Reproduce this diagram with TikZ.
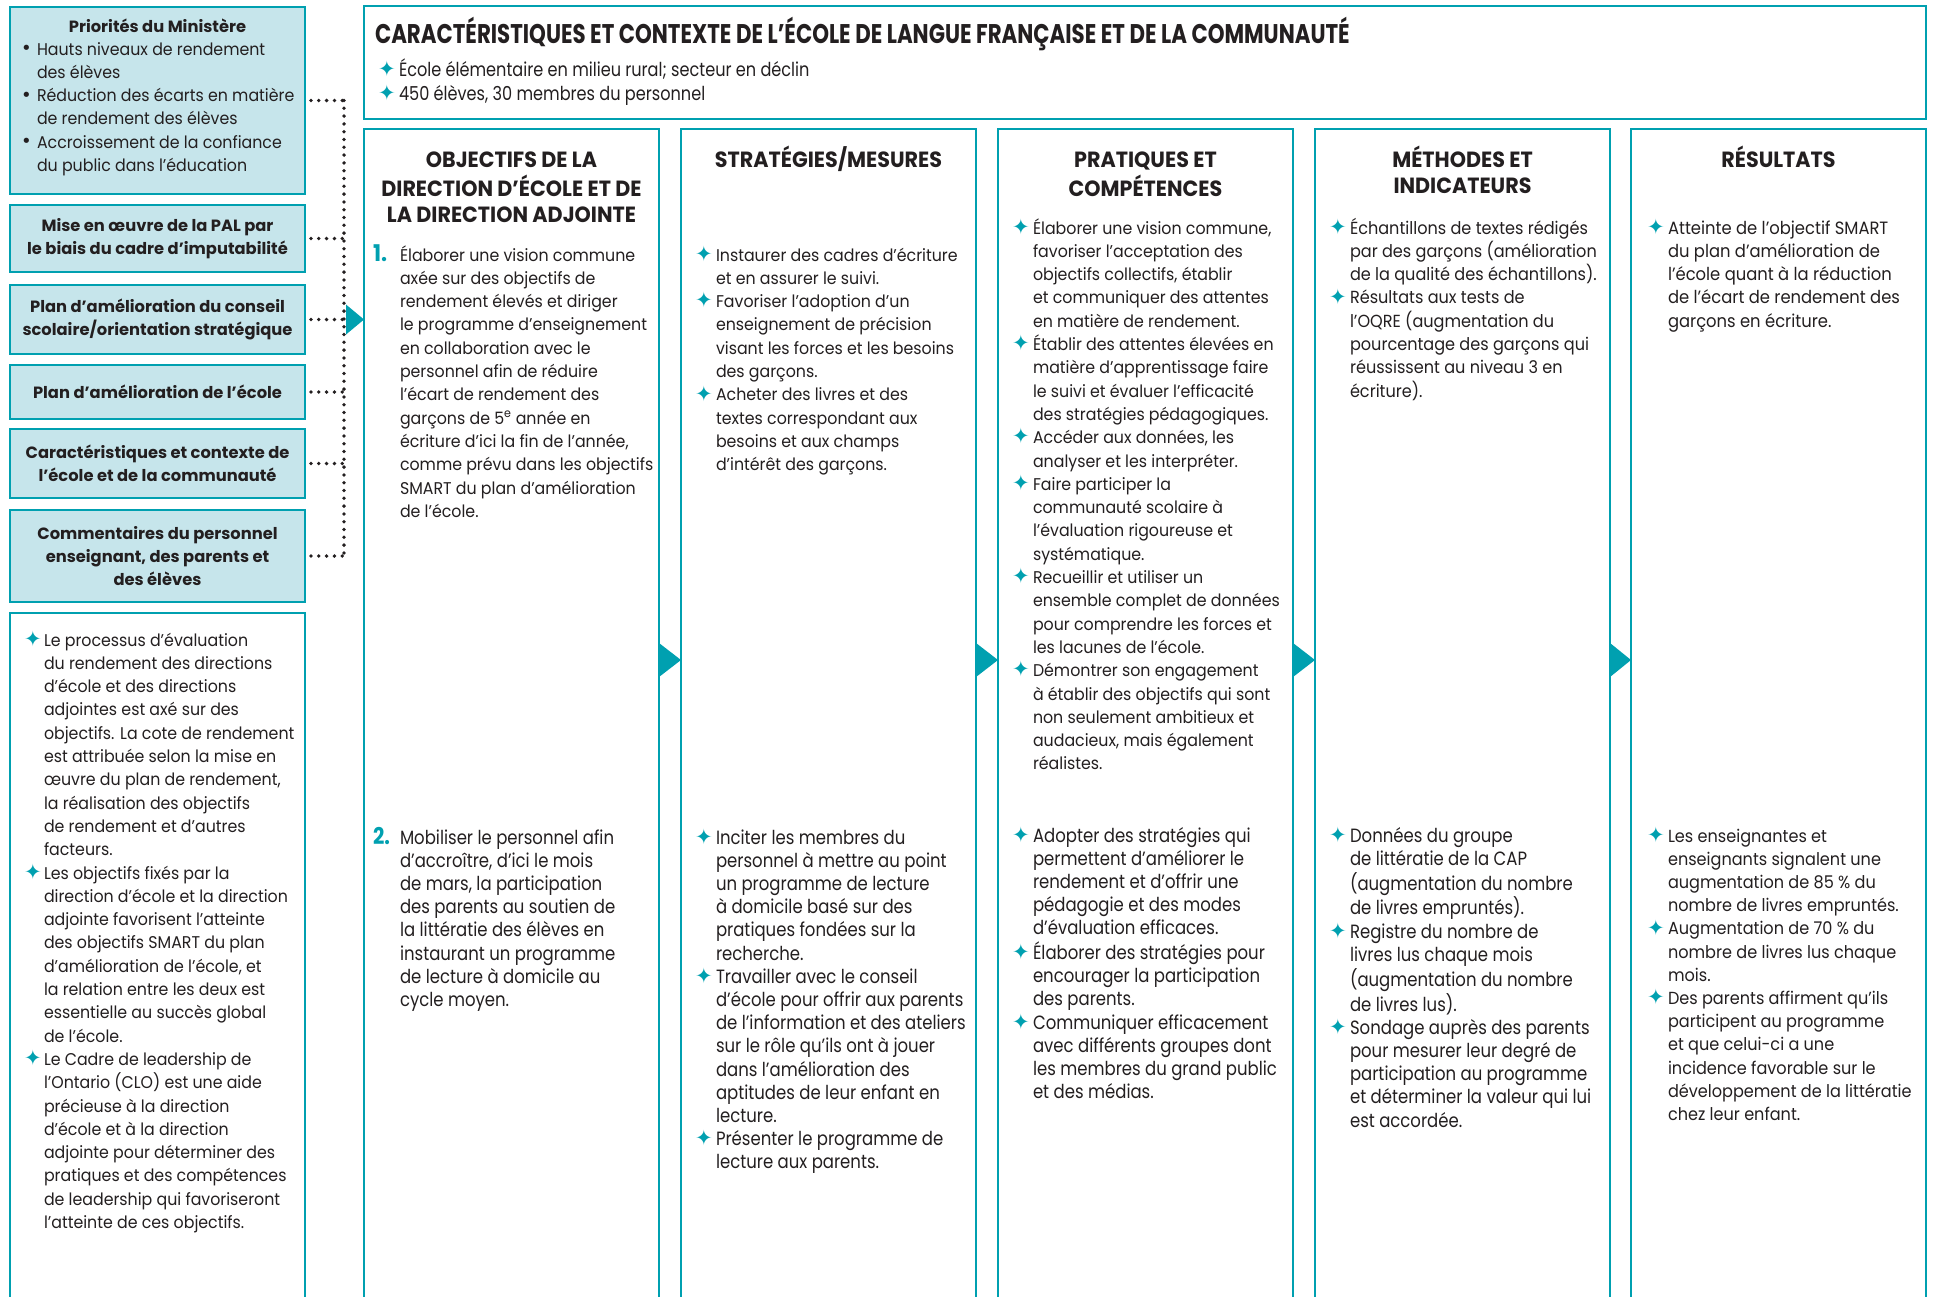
\documentclass[tikz,border=0pt]{standalone}
\usepackage{fontspec}
\usetikzlibrary{calc}
\setmainfont{Poppins}
\newfontfamily\fB{Poppins}[FakeStretch=0.93]
\newfontfamily\fC{Poppins}[FakeStretch=0.86]
\newfontfamily\fK{Poppins}[FakeStretch=0.84]
\newfontfamily\fM{Poppins}[FakeStretch=0.92]
\newfontfamily\fT{Poppins}[FakeStretch=0.79]
\newfontfamily\fH{Poppins}[FakeStretch=0.94]
\newfontfamily\fL{Poppins}
\newfontfamily\fSym{DejaVu Sans}
\definecolor{cteal}{HTML}{00A0B0}
\definecolor{cfill}{HTML}{C6E5EB}
\definecolor{ink}{HTML}{231F20}
% body sizes (1pt = 1px of the layout grid)
\newcommand{\bodysz}{\fontsize{17}{23.3}\selectfont}
\newcommand{\condsz}{\fontsize{19.2}{23.2}\selectfont}
\newcommand{\headsz}{\fontsize{22}{26.5}\selectfont}
\newcommand{\st}{\raisebox{-0.2pt}{\fSym\fontsize{21}{21}\selectfont\textcolor{cteal}{✦}}}
\newcommand{\dotb}{\raisebox{0.5pt}{\fSym\fontsize{18}{18}\selectfont •}}
\newcommand{\num}[1]{\textcolor{cteal}{\fontsize{23}{23}\selectfont\bfseries #1}}
\begin{document}
\begin{tikzpicture}[x=1pt,y=-1pt,
  box/.style={draw=cteal, line width=2.4pt, inner sep=0pt, outer sep=0pt},
  lbox/.style={box, fill=cfill, minimum width=295pt, align=center, text=ink,
    font=\fL\bfseries\fontsize{16.3}{23.3}\selectfont},
  colbox/.style={box, fill=white, minimum width=295pt, minimum height=1250pt, anchor=north west},
  txt/.style={inner sep=0pt, outer sep=0pt, text=ink, anchor=base west},
  head/.style={inner sep=0pt, outer sep=0pt, text=ink, anchor=base},
  flow/.style={fill=cteal},
  bus/.style={draw=ink, line width=3.8pt, line cap=round, dash pattern=on 0pt off 7.8pt}]
\useasboundingbox (0,0) rectangle (1933,1296);
\begin{scope}
\clip (0,0) rectangle (1933,1296);

% ---------- left column of inputs ----------
\node[lbox, minimum height=187pt] (b1) at (157.5,100.5) {};
\node[lbox, minimum height=67pt] (b2) at (157.5,238.5) {Mise en œuvre de la PAL par\\le biais du cadre d’imputabilité};
\node[lbox, minimum height=69pt] (b3) at (157.5,319.5) {Plan d’amélioration du conseil\\scolaire/orientation stratégique};
\node[lbox, minimum height=54pt] (b4) at (157.5,392) {Plan d’amélioration de l’école};
\node[lbox, minimum height=69pt] (b5) at (157.5,463.5) {Caractéristiques et contexte de\\l’école et de la communauté};
\node[lbox, minimum height=92pt] (b6) at (157.5,556) {Commentaires du personnel\\enseignant, des parents et\\des élèves};
\node[box, fill=white, minimum width=295pt, minimum height=720pt, anchor=north] (b7) at (157.5,613) {};

\node[head, font=\fL\bfseries\fontsize{16.3}{23.3}\selectfont] (b1h) at (157.5,32) {Priorités du Ministère};
\node[txt] (b1t) at (21,55) {\fB\bodysz
\begin{tabular}[t]{@{}p{16pt}@{}l@{}}
\dotb & Hauts niveaux de rendement\\
      & des élèves\\
\dotb & Réduction des écarts en matière\\
      & de rendement des élèves\\
\dotb & Accroissement de la confiance\\
      & du public dans l’éducation
\end{tabular}};

\node[txt] (b7t) at (24,646) {\fB\bodysz
\begin{tabular}[t]{@{}p{20pt}@{}l@{}}
\st & Le processus d’évaluation\\
    & du rendement des directions\\
    & d’école et des directions\\
    & adjointes est axé sur des\\
    & objectifs. La cote de rendement\\
    & est attribuée selon la mise en\\
    & œuvre du plan de rendement,\\
    & la réalisation des objectifs\\
    & de rendement et d’autres\\
    & facteurs.\\
\st & Les objectifs fixés par la\\
    & direction d’école et la direction\\
    & adjointe favorisent l’atteinte\\
    & des objectifs SMART du plan\\
    & d’amélioration de l’école, et\\
    & la relation entre les deux est\\
    & essentielle au succès global\\
    & de l’école.\\
\st & Le Cadre de leadership de\\
    & l’Ontario (CLO) est une aide\\
    & précieuse à la direction\\
    & d’école et à la direction\\
    & adjointe pour déterminer des\\
    & pratiques et des compétences\\
    & de leadership qui favoriseront\\
    & l’atteinte de ces objectifs.
\end{tabular}};

% ---------- context banner ----------
\node[box, fill=white, minimum width=1562pt, minimum height=113pt, anchor=north west] (ctx) at (364,6) {};
\node[txt] (ctxh) at (375,43) {\fT\bfseries\fontsize{27}{27}\selectfont CARACTÉRISTIQUES ET CONTEXTE DE L’ÉCOLE DE LANGUE FRANÇAISE ET DE LA COMMUNAUTÉ};
\node[txt] (ctxt) at (378,76) {\fK\fontsize{19.2}{24}\selectfont
\begin{tabular}[t]{@{}p{21pt}@{}l@{}}
\st & École élémentaire en milieu rural; secteur en déclin\\
\st & 450 élèves, 30 membres du personnel
\end{tabular}};

% ---------- five stage columns ----------
\node[colbox] (c1) at (364,129) {};
\node[colbox] (c2) at (681,129) {};
\node[colbox] (c3) at (998,129) {};
\node[colbox] (c4) at (1315,129) {};
\node[colbox] (c5) at (1631,129) {};

\node[head] (h1) at (511.5,167) {\fH\bfseries\headsz
\begin{tabular}[t]{@{}c@{}}OBJECTIFS DE LA\\DIRECTION D’ÉCOLE ET DE\\LA DIRECTION ADJOINTE\end{tabular}};
\node[head] (h2) at (828.5,167) {\fH\bfseries\headsz STRATÉGIES/MESURES};
\node[head] (h3) at (1145.5,167) {\fH\bfseries\headsz
\begin{tabular}[t]{@{}c@{}}PRATIQUES ET\\COMPÉTENCES\end{tabular}};
\node[head] (h4) at (1462.5,167) {\fH\bfseries\headsz
\begin{tabular}[t]{@{}c@{}}MÉTHODES ET\\INDICATEURS\end{tabular}};
\node[head] (h5) at (1778.5,167) {\fH\bfseries\headsz RÉSULTATS};

% column 1
\node[txt] (o1) at (373,261) {\fB\bodysz
\begin{tabular}[t]{@{}p{27pt}@{}l@{}}
\num{1.} & Élaborer une vision commune\\
 & axée sur des objectifs de\\
 & rendement élevés et diriger\\
 & le programme d’enseignement\\
 & en collaboration avec le\\
 & personnel afin de réduire\\
 & l’écart de rendement des\\
 & garçons de 5\textsuperscript{e} année en\\
 & écriture d’ici la fin de l’année,\\
 & comme prévu dans les objectifs\\
 & SMART du plan d’amélioration\\
 & de l’école.
\end{tabular}};
\node[txt] (o2) at (373,844) {\fC\condsz
\begin{tabular}[t]{@{}p{27pt}@{}l@{}}
\num{2.} & Mobiliser le personnel afin\\
 & d’accroître, d’ici le mois\\
 & de mars, la participation\\
 & des parents au soutien de\\
 & la littératie des élèves en\\
 & instaurant un programme\\
 & de lecture à domicile au\\
 & cycle moyen.
\end{tabular}};

% column 2
\node[txt] (s1) at (695,261) {\fB\bodysz
\begin{tabular}[t]{@{}p{21pt}@{}l@{}}
\st & Instaurer des cadres d’écriture\\
    & et en assurer le suivi.\\
\st & Favoriser l’adoption d’un\\
    & enseignement de précision\\
    & visant les forces et les besoins\\
    & des garçons.\\
\st & Acheter des livres et des\\
    & textes correspondant aux\\
    & besoins et aux champs\\
    & d’intérêt des garçons.
\end{tabular}};
\node[txt] (s2) at (695,844) {\fC\condsz
\begin{tabular}[t]{@{}p{21pt}@{}l@{}}
\st & Inciter les membres du\\
    & personnel à mettre au point\\
    & un programme de lecture\\
    & à domicile basé sur des\\
    & pratiques fondées sur la\\
    & recherche.\\
\st & Travailler avec le conseil\\
    & d’école pour offrir aux parents\\
    & de l’information et des ateliers\\
    & sur le rôle qu’ils ont à jouer\\
    & dans l’amélioration des\\
    & aptitudes de leur enfant en\\
    & lecture.\\
\st & Présenter le programme de\\
    & lecture aux parents.
\end{tabular}};

% column 3
\node[txt] (p1) at (1012,234) {\fB\bodysz
\begin{tabular}[t]{@{}p{21pt}@{}l@{}}
\st & Élaborer une vision commune,\\
    & favoriser l’acceptation des\\
    & objectifs collectifs, établir\\
    & et communiquer des attentes\\
    & en matière de rendement.\\
\st & Établir des attentes élevées en\\
    & matière d’apprentissage faire\\
    & le suivi et évaluer l’efficacité\\
    & des stratégies pédagogiques.\\
\st & Accéder aux données, les\\
    & analyser et les interpréter.\\
\st & Faire participer la\\
    & communauté scolaire à\\
    & l’évaluation rigoureuse et\\
    & systématique.\\
\st & Recueillir et utiliser un\\
    & ensemble complet de données\\
    & pour comprendre les forces et\\
    & les lacunes de l’école.\\
\st & Démontrer son engagement\\
    & à établir des objectifs qui sont\\
    & non seulement ambitieux et\\
    & audacieux, mais également\\
    & réalistes.
\end{tabular}};
\node[txt] (p2) at (1012,842) {\fC\condsz
\begin{tabular}[t]{@{}p{21pt}@{}l@{}}
\st & Adopter des stratégies qui\\
    & permettent d’améliorer le\\
    & rendement et d’offrir une\\
    & pédagogie et des modes\\
    & d’évaluation efficaces.\\
\st & Élaborer des stratégies pour\\
    & encourager la participation\\
    & des parents.\\
\st & Communiquer efficacement\\
    & avec différents groupes dont\\
    & les membres du grand public\\
    & et des médias.
\end{tabular}};

% column 4
\node[txt] (m1) at (1329,234) {\fM\fontsize{17.5}{23.3}\selectfont
\begin{tabular}[t]{@{}p{21pt}@{}l@{}}
\st & Échantillons de textes rédigés\\
    & par des garçons (amélioration\\
    & de la qualité des échantillons).\\
\st & Résultats aux tests de\\
    & l’OQRE (augmentation du\\
    & pourcentage des garçons qui\\
    & réussissent au niveau 3 en\\
    & écriture).
\end{tabular}};
\node[txt] (m2) at (1329,842) {\fC\condsz
\begin{tabular}[t]{@{}p{21pt}@{}l@{}}
\st & Données du groupe\\
    & de littératie de la CAP\\
    & (augmentation du nombre\\
    & de livres empruntés).\\
\st & Registre du nombre de\\
    & livres lus chaque mois\\
    & (augmentation du nombre\\
    & de livres lus).\\
\st & Sondage auprès des parents\\
    & pour mesurer leur degré de\\
    & participation au programme\\
    & et déterminer la valeur qui lui\\
    & est accordée.
\end{tabular}};

% column 5
\node[txt] (r1) at (1647,234) {\fM\fontsize{17.8}{23.3}\selectfont
\begin{tabular}[t]{@{}p{21pt}@{}l@{}}
\st & Atteinte de l’objectif SMART\\
    & du plan d’amélioration de\\
    & l’école quant à la réduction\\
    & de l’écart de rendement des\\
    & garçons en écriture.
\end{tabular}};
\node[txt] (r2) at (1647,842) {\fM\fontsize{17.5}{23.2}\selectfont
\begin{tabular}[t]{@{}p{21pt}@{}l@{}}
\st & Les enseignantes et\\
    & enseignants signalent une\\
    & augmentation de 85~\% du\\
    & nombre de livres empruntés.\\
\st & Augmentation de 70~\% du\\
    & nombre de livres lus chaque\\
    & mois.\\
\st & Des parents affirment qu’ils\\
    & participent au programme\\
    & et que celui-ci a une\\
    & incidence favorable sur le\\
    & développement de la littératie\\
    & chez leur enfant.
\end{tabular}};

% ---------- dotted feed lines into the first column ----------
\coordinate (busx) at (344,0);
\foreach \b in {b1,b2,b3,b4,b5,b6}
  \draw[bus, shorten <=6pt] (\b.east) -- (\b.east -| busx);
\draw[bus] (b1.east -| busx) -- (b6.east -| busx);
\fill[flow] ($(c1.north west |- b3.east)+(-18,-15)$) -- (c1.north west |- b3.east)
  -- ($(c1.north west |- b3.east)+(-18,15)$) -- cycle;

% ---------- flow arrows between the stage columns ----------
\coordinate (ay) at (0,660);
\foreach \a/\b in {c1/c2,c2/c3,c3/c4,c4/c5}
  \fill[flow] ($(\a.north east |- ay)+(0,-17)$) -- (\b.north west |- ay)
    -- ($(\a.north east |- ay)+(0,17)$) -- cycle;
\end{scope}
\end{tikzpicture}
\end{document}
